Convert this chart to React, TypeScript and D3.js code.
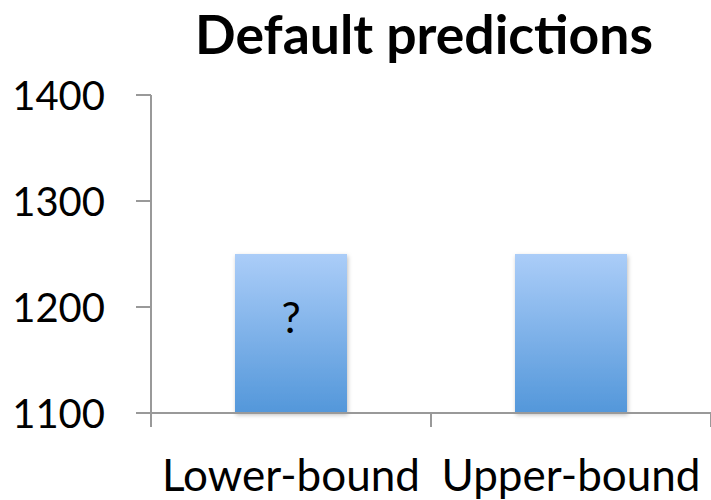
import React from "react";
import * as d3 from "d3";

const categories = ["Lower-bound", "Upper-bound"];
const values = [1250, 1250];
const barNotes = ["?", ""];
const yTicks = [1100, 1200, 1300, 1400];
const title = "Default predictions";

export default function App() {
  const W = 711, H = 500;
  const x0 = 151, x1 = 711;
  const y = d3.scaleLinear().domain([1100, 1400]).range([413, 95]);
  const x = d3.scaleBand().domain(categories).range([x0, x1]).paddingInner(0.6).paddingOuter(0.3);
  const xEdges = d3.scaleBand().domain(categories).range([x0, x1]);
  const font = "Lato, 'Open Sans', sans-serif";
  return (
    <svg width={W} height={H} style={{ position: "absolute", left: 0, top: 0 }} fontFamily={font}>
      <defs>
        <linearGradient id="barGrad" x1="0" y1="0" x2="0" y2="1">
          <stop offset="0" stopColor="#abcdf8" />
          <stop offset="1" stopColor="#5397da" />
        </linearGradient>
        <filter id="shadow" x="-10%" y="-10%" width="120%" height="120%">
          <feDropShadow dx="1" dy="2" stdDeviation="2" floodColor="#000" floodOpacity="0.25" />
        </filter>
      </defs>
      <rect width={W} height={H} fill="#fff" />
      <text x={424} y={54} textAnchor="middle" fontSize={53.5} fontWeight="bold" fill="#000">{title}</text>
      {/* y axis */}
      <line x1={x0} x2={x0} y1={y(1400)} y2={y(1100) + 14} stroke="#999" strokeWidth={2} />
      {yTicks.map((t) => (
        <g key={t}>
          <line x1={x0 - 15} x2={x0} y1={y(t)} y2={y(t)} stroke="#999" strokeWidth={2} />
          <text x={105} y={y(t) + 14.5} textAnchor="end" fontSize={40} fill="#000">{t}</text>
        </g>
      ))}
      {/* bars */}
      {categories.map((c, i) => (
        <g key={c}>
          <rect x={x(c)} y={y(values[i])} width={x.bandwidth()} height={y(1100) - y(values[i])} fill="url(#barGrad)" filter="url(#shadow)" />
          {barNotes[i] && (
            <text x={(x(c) as number) + x.bandwidth() / 2} y={333} textAnchor="middle" fontSize={43} fill="#000">{barNotes[i]}</text>
          )}
        </g>
      ))}
      {/* x axis */}
      <line x1={x0} x2={x1} y1={y(1100)} y2={y(1100)} stroke="#999" strokeWidth={2} />
      {categories.map((c) => (
        <line key={c} x1={(xEdges(c) as number) + xEdges.bandwidth()} x2={(xEdges(c) as number) + xEdges.bandwidth()} y1={y(1100)} y2={y(1100) + 14} stroke="#999" strokeWidth={2} />
      ))}
      {categories.map((c) => (
        <text key={c} x={(xEdges(c) as number) + xEdges.bandwidth() / 2} y={491} textAnchor="middle" fontSize={44} fill="#000">{c}</text>
      ))}
    </svg>
  );
}
